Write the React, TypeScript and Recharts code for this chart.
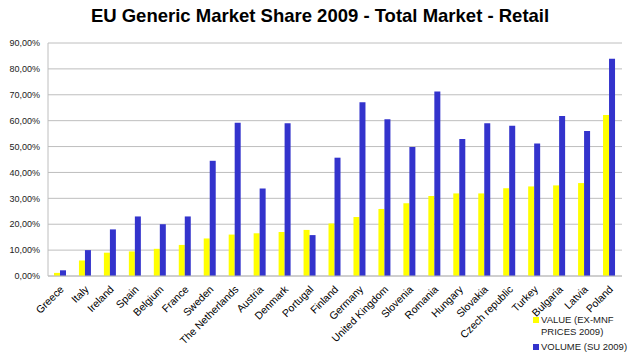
import { BarChart, Bar, XAxis, YAxis, CartesianGrid } from 'recharts';

const countries = [
  'Greece', 'Italy', 'Ireland', 'Spain', 'Belgium', 'France', 'Sweden', 'The Netherlands',
  'Austria', 'Denmark', 'Portugal', 'Finland', 'Germany', 'United Kingdom', 'Slovenia',
  'Romania', 'Hungary', 'Slovakia', 'Czech republic', 'Turkey', 'Bulgaria', 'Latvia', 'Poland'
];

// percent of market
const valueShare = [
  1.2, 6, 9, 9.5, 10.5, 12, 14.5, 16, 16.5, 17, 17.8, 20.3, 22.8, 25.9, 28.1,
  30.9, 31.9, 31.9, 33.9, 34.6, 35, 35.9, 62.2
];
const volumeShare = [
  2.2, 10, 18, 23, 20, 23, 44.5, 59.2, 33.8, 59, 15.8, 45.7, 67.1, 60.5, 49.8,
  71.3, 52.9, 59, 58, 51.2, 61.8, 56, 83.9
];

const yTicks = [0, 10, 20, 30, 40, 50, 60, 70, 80, 90];

const chartData = countries.map((c, i) => ({
  country: c,
  value: valueShare[i],
  volume: volumeShare[i]
}));

const FONT = '"Liberation Sans", Arial, sans-serif';

const fmtPct = (v: number) => v.toFixed(2).replace('.', ',') + '%';

const CountryTick = ({ x, y, payload }: any) => (
  <g transform={`translate(${x + 4},${y + 6})`}>
    <text textAnchor="end" transform="rotate(-45)" fontSize={10.5} fill="#000" fontFamily={FONT}>
      {payload.value}
    </text>
  </g>
);

export default function App() {
  return (
    <div style={{ position: 'absolute', left: 0, top: 0, width: 640, height: 362, background: '#fff' }}>
      <div
        style={{
          position: 'absolute', left: 0, top: 5, width: 640, textAlign: 'center',
          fontFamily: FONT, fontWeight: 'bold', fontSize: 18.5, color: '#000'
        }}
      >
        EU Generic Market Share 2009 - Total Market - Retail
      </div>
      <BarChart
        width={640}
        height={362}
        data={chartData}
        margin={{ top: 43, right: 18, left: 0, bottom: 0 }}
        barCategoryGap="24%"
        barGap={0}
      >
        <CartesianGrid vertical={false} stroke="#BEBEBE" />
        <XAxis
          dataKey="country"
          interval={0}
          height={86}
          tick={<CountryTick />}
          tickLine={false}
          axisLine={{ stroke: '#BEBEBE' }}
        />
        <YAxis
          width={48}
          domain={[0, 90]}
          ticks={yTicks}
          tickFormatter={fmtPct}
          tick={{ fontSize: 9, fill: '#222', fontFamily: FONT }}
          tickLine={false}
          axisLine={{ stroke: '#BEBEBE' }}
        />
        <Bar dataKey="value" fill="#FFFF00" isAnimationActive={false} />
        <Bar dataKey="volume" fill="#3333CC" isAnimationActive={false} />
      </BarChart>
      <div
        style={{
          position: 'absolute', left: 533, top: 314, width: 100,
          fontFamily: FONT, fontSize: 9.5, color: '#222', lineHeight: '12px'
        }}
      >
        <div style={{ display: 'flex', alignItems: 'flex-start' }}>
          <span style={{ width: 6, height: 6, background: '#FFFF00', marginTop: 3, marginRight: 2, flexShrink: 0 }} />
          <span>VALUE (EX-MNF<br />PRICES 2009)</span>
        </div>
        <div style={{ display: 'flex', alignItems: 'flex-start', marginTop: 3 }}>
          <span style={{ width: 6, height: 6, background: '#3333CC', marginTop: 3, marginRight: 2, flexShrink: 0 }} />
          <span>VOLUME (SU 2009)</span>
        </div>
      </div>
    </div>
  );
}
